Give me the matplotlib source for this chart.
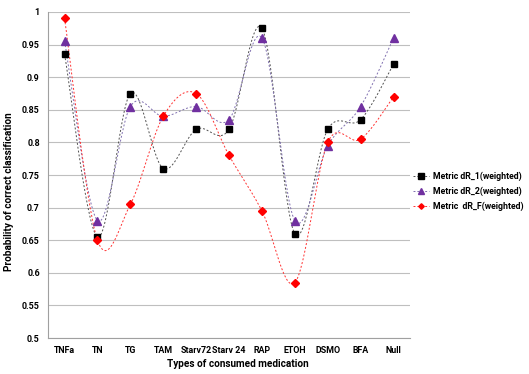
import matplotlib.pyplot as plt
import numpy as np

categories = ["TNFa", "TN", "TG", "TAM", "Starv72", "Starv 24", "RAP", "ETOH", "DSMO", "BFA", "Null"]
dr1 = [0.935, 0.655, 0.875, 0.76, 0.82, 0.82, 0.975, 0.66, 0.82, 0.835, 0.92]
dr2 = [0.955, 0.68, 0.855, 0.84, 0.855, 0.835, 0.96, 0.68, 0.795, 0.855, 0.96]
drf = [0.99, 0.65, 0.705, 0.84, 0.875, 0.78, 0.695, 0.585, 0.80, 0.805, 0.87]
yticks = [0.5, 0.55, 0.6, 0.65, 0.7, 0.75, 0.8, 0.85, 0.9, 0.95, 1.0]
yticklabels = ["0.5", "0.55", "0.6", "0.65", "0.7", "0.75", "0.8", "0.85", "0.9", "0.95", "1"]


def smooth(x, y, n=30):
    # excel-like smoothed line: bezier with catmull-rom control points
    x = np.asarray(x, float)
    y = np.asarray(y, float)
    px = np.concatenate([[x[0]], x, [x[-1]]])
    py = np.concatenate([[y[0]], y, [y[-1]]])
    xs, ys = [], []
    t = np.linspace(0, 1, n)
    for i in range(1, len(px) - 2):
        p0 = np.array([px[i], py[i]])
        p3 = np.array([px[i + 1], py[i + 1]])
        p1 = p0 + (np.array([px[i + 1], py[i + 1]]) - np.array([px[i - 1], py[i - 1]])) / 6
        p2 = p3 - (np.array([px[i + 2], py[i + 2]]) - np.array([px[i], py[i]])) / 6
        b = ((1 - t) ** 3)[:, None] * p0 + (3 * (1 - t) ** 2 * t)[:, None] * p1 \
            + (3 * (1 - t) * t ** 2)[:, None] * p2 + (t ** 3)[:, None] * p3
        xs.extend(b[:, 0])
        ys.extend(b[:, 1])
    return xs, ys


plt.rcParams['font.family'] = ['Roboto', 'DejaVu Sans']
fig = plt.figure(figsize=(5.29, 3.74), dpi=100)
ax = fig.add_axes([0.091, 0.096, 0.684, 0.872])

x = np.arange(len(categories))
series = [
    (dr1, "Metric dR_1(weighted)", "#505050", "s", "black", 5),
    (dr2, "Metric dR_2(weighted)", "#8070b0", "^", "#7030a0", 5.5),
    (drf, "Metric  dR_F(weighted)", "#ff3030", "D", "#ff0000", 3.8),
]
for vals, lab, lc, mk, mc, ms in series:
    sx, sy = smooth(x, vals)
    ax.plot(sx, sy, color=lc, lw=0.7, ls=(0, (2, 2)), zorder=2)
    ax.plot(x, vals, ls="none", marker=mk, ms=ms, color=mc, zorder=3)
    ax.plot([], [], color=lc, lw=0.7, ls=(0, (2, 2)), marker=mk, ms=ms - 1, mfc=mc, mec=mc, label=lab)

ax.set_xlim(-0.5, len(categories) - 0.5)
ax.set_ylim(0.5, 1.0)
ax.set_yticks(yticks)
ax.set_yticklabels(yticklabels)
ax.set_xticks(x)
ax.set_xticklabels(categories)
ax.tick_params(axis="both", length=0, labelsize=6.4, pad=6)
for lbl in ax.get_xticklabels() + ax.get_yticklabels():
    lbl.set_fontweight("bold")
ax.grid(axis="y", color="#bfbfbf", lw=0.8)
ax.set_axisbelow(True)
for s in ["top", "right"]:
    ax.spines[s].set_visible(False)
for s in ["left", "bottom"]:
    ax.spines[s].set_color("#a0a0a0")
    ax.spines[s].set_linewidth(0.8)

ax.set_xlabel("Types of consumed medication", fontsize=7.2, fontweight="bold")
ax.xaxis.set_label_coords(0.525, -0.065)
ax.set_ylabel("Probability of correct classification", fontsize=7.2, fontweight="bold")
ax.yaxis.set_label_coords(-0.095, 0.45)

ax.legend(loc="center left", bbox_to_anchor=(0.995, 0.45), frameon=False,
          prop={"weight": "bold", "size": 6.3}, handlelength=1.9,
          labelspacing=0.6, handletextpad=0.4, borderaxespad=0.1)

fig.savefig("out.png", dpi=100)
